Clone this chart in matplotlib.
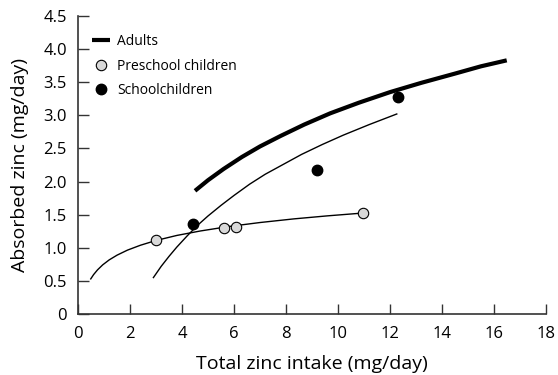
import matplotlib
matplotlib.use("Agg")
import matplotlib.pyplot as plt

plt.rcParams['font.family'] = ['Open Sans', 'DejaVu Sans']

# observed data points
preschool_x = [3.0, 5.62, 6.09, 10.95]
preschool_y = [1.11, 1.30, 1.32, 1.52]
school_x = [4.43, 9.2, 12.32]
school_y = [1.36, 2.17, 3.27]

# fitted curves
adult_fit_x = [4.5, 5.0, 5.6, 6.3, 7.0, 7.8, 8.7, 9.7, 10.8, 12.0, 13.2, 14.5, 15.5, 16.49]
adult_fit_y = [1.86, 2.02, 2.19, 2.37, 2.53, 2.69, 2.86, 3.03, 3.19, 3.35, 3.49, 3.63, 3.74, 3.83]
school_fit_x = [2.9, 3.2, 3.5, 3.8, 4.2, 4.6, 5.0, 5.5, 6.0, 6.6, 7.2, 7.9, 8.6, 9.4, 10.2, 11.2, 12.26]
school_fit_y = [0.55, 0.72, 0.87, 1.01, 1.18, 1.34, 1.48, 1.64, 1.79, 1.96, 2.11, 2.26, 2.41, 2.56, 2.70, 2.86, 3.02]
pre_fit_x = [0.49, 0.6, 0.75, 0.95, 1.2, 1.5, 1.9, 2.4, 3.0, 3.8, 4.7, 5.8, 7.0, 8.3, 9.6, 10.95]
pre_fit_y = [0.53, 0.595, 0.666, 0.742, 0.817, 0.888, 0.964, 1.038, 1.11, 1.186, 1.253, 1.321, 1.381, 1.436, 1.482, 1.524]

xticks = [0, 2, 4, 6, 8, 10, 12, 14, 16, 18]
yticks = [0, 0.5, 1.0, 1.5, 2.0, 2.5, 3.0, 3.5, 4.0, 4.5]
ytick_labels = ['0', '0.5', '1.0', '1.5', '2.0', '2.5', '3.0', '3.5', '4.0', '4.5']

fig = plt.figure(figsize=(5.58, 3.75), dpi=100)
ax = fig.add_axes([0.1398, 0.1627, 0.8387, 0.7947])

ax.plot(adult_fit_x, adult_fit_y, color='black', lw=3, solid_capstyle='butt', label='Adults')
ax.plot(school_fit_x, school_fit_y, color='black', lw=1)
ax.plot(pre_fit_x, pre_fit_y, color='black', lw=1)

ax.plot(preschool_x, preschool_y, 'o', ms=7.5, mfc='#d9d9d9', mec='black', mew=0.8,
        label='Preschool children', zorder=3)
ax.plot(school_x, school_y, 'o', ms=7.5, mfc='black', mec='black', label='Schoolchildren', zorder=3)

ax.set_xlim(0, 18)
ax.set_ylim(0, 4.5)
ax.set_xticks(xticks)
ax.set_yticks(yticks)
ax.set_yticklabels(ytick_labels)
ax.tick_params(direction='in', width=1, labelsize=12, color='#333333', labelcolor='black')
ax.tick_params(axis='x', length=7, pad=9)
ax.tick_params(axis='y', length=8, pad=8)

for s in ['top', 'right']:
    ax.spines[s].set_visible(False)
for s in ['left', 'bottom']:
    ax.spines[s].set_color('#333333')
    ax.spines[s].set_linewidth(1.2)

ax.set_xlabel('Total zinc intake (mg/day)', fontsize=14, labelpad=9)
ax.set_ylabel('Absorbed zinc (mg/day)', fontsize=14, labelpad=10)

ax.legend(loc='upper left', bbox_to_anchor=(0.03, 0.94), frameon=False, fontsize=10,
          handlelength=1.3, handletextpad=0.5, labelspacing=0.7, borderaxespad=0, borderpad=0)

fig.savefig('out.png', dpi=100)
